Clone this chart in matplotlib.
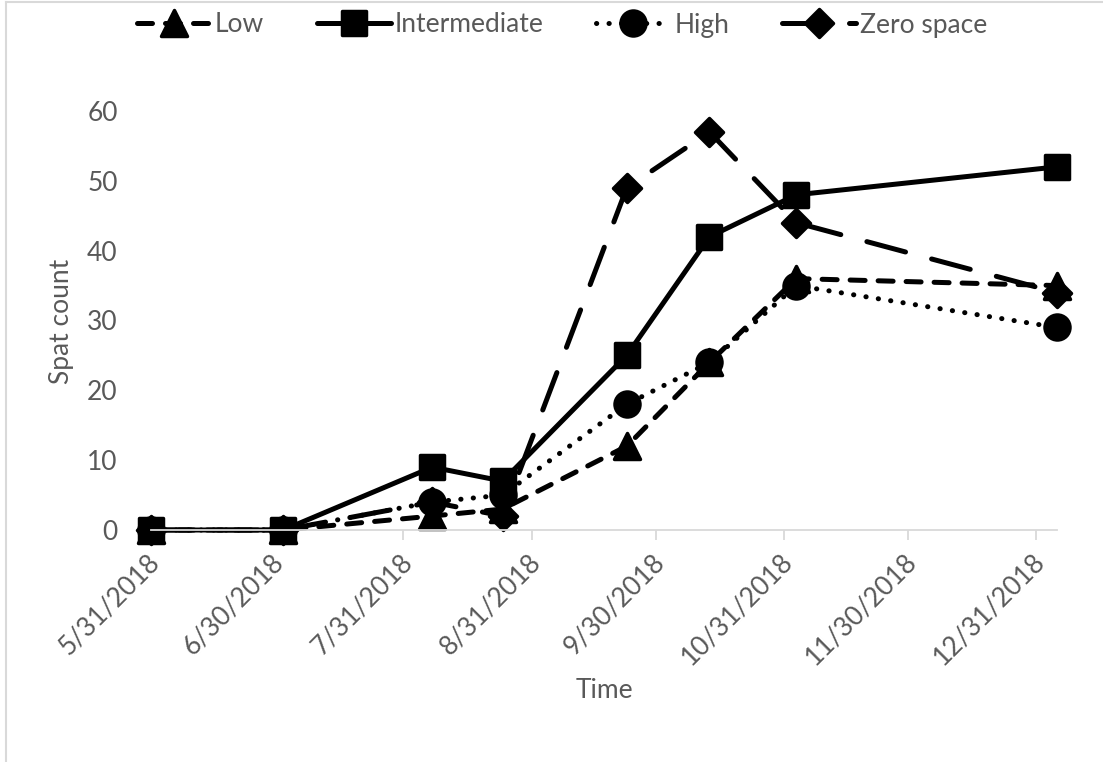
import matplotlib
matplotlib.use('Agg')
import matplotlib.pyplot as plt
import matplotlib.dates as mdates
from matplotlib.markers import MarkerStyle
from matplotlib.lines import Line2D
from matplotlib.transforms import ScaledTranslation
import numpy as np

# sampling dates and spat counts
dates = ['2018-05-31', '2018-07-02', '2018-08-07', '2018-08-24',
         '2018-09-23', '2018-10-13', '2018-11-03', '2019-01-05']
low = [0, 0, 2, 3, 12, 24, 36, 35]
intermediate = [0, 0, 9, 7, 25, 42, 48, 52]
high = [0, 0, 4, 5, 18, 24, 35, 29]
zero_space = [0, 0, 4, 2, 49, 57, 44, 34]

tick_dates = ['2018-05-31', '2018-06-30', '2018-07-31', '2018-08-31',
              '2018-09-30', '2018-10-31', '2018-11-30', '2018-12-31']
tick_labels = ['5/31/2018', '6/30/2018', '7/31/2018', '8/31/2018',
               '9/30/2018', '10/31/2018', '11/30/2018', '12/31/2018']
y_ticks = [0, 10, 20, 30, 40, 50, 60]

GREY = '#595959'
AXIS = '#D9D9D9'
FS = 19
plt.rcParams['font.family'] = ['Lato', 'DejaVu Sans']

W, H = 1103, 762
fig = plt.figure(figsize=(W / 100, H / 100), dpi=100)


def px(x0, y0, x1, y1):
    # pixel box (top-left origin) -> figure fraction rect
    return [x0 / W, 1 - y1 / H, (x1 - x0) / W, (y1 - y0) / H]


ax = fig.add_axes(px(151, 111, 1057, 530))

x = mdates.date2num(np.array(dates, dtype='datetime64[D]'))
LW = 3.6


def mk(m):
    return MarkerStyle(m, joinstyle='round')


series = [
    ('Low', low, (0, (3.0, 2.6)), mk('^'), 19),
    ('Intermediate', intermediate, '-', mk('s'), 17),
    ('High', high, (0, (0.05, 2.45)), mk('o'), 18),
    ('Zero space', zero_space, (0, (8.0, 5.4)), mk('D'), 14),
]

handles = []
for name, vals, ls, marker, ms in series:
    line, = ax.plot(x, vals, color='black', lw=LW, linestyle=ls,
                    dash_capstyle='round', solid_capstyle='round',
                    marker=marker, markersize=ms, markerfacecolor='black',
                    markeredgecolor='black', markeredgewidth=2.5,
                    label=name, clip_on=False)
    handles.append(line)

ax.set_xlim(x[0], x[-1])
ax.set_ylim(0, 60)
ax.set_yticks(y_ticks)
ax.set_xticks(mdates.date2num(np.array(tick_dates, dtype='datetime64[D]')))
ax.set_xticklabels(tick_labels, rotation=45, ha='right', va='center',
                   rotation_mode='anchor')

for s in ['top', 'right', 'left']:
    ax.spines[s].set_visible(False)
ax.spines['bottom'].set_color(AXIS)
ax.spines['bottom'].set_linewidth(1.3)
ax.tick_params(axis='x', colors=GREY, labelsize=FS, length=7, width=1.3,
               color=AXIS, pad=13)
ax.tick_params(axis='y', colors=GREY, labelsize=FS, length=0, pad=24)

# nudge the slanted date labels a little to the right, like Excel does
shift = ScaledTranslation(5 / 100, 0, fig.dpi_scale_trans)
for lbl in ax.get_xticklabels():
    lbl.set_transform(lbl.get_transform() + shift)

# axis titles placed in figure pixels
fig.text(604 / W, 1 - 690 / H, 'Time', fontsize=FS, color=GREY,
         ha='center', va='center')
fig.text(61 / W, 1 - 321 / H, 'Spat count', fontsize=FS, color=GREY,
         ha='center', va='center', rotation=90)

fig.legend(handles=handles, loc='center', bbox_to_anchor=(562 / W, 1 - 25 / H),
           ncol=4, frameon=False, fontsize=FS, labelcolor=GREY,
           handlelength=2.8, handletextpad=0.15, columnspacing=2.0)

# chart border (only top and left edges fall inside the picture)
fig.add_artist(Line2D([6 / W, 6 / W], [0, 1 - 2 / H], transform=fig.transFigure,
                      color=AXIS, lw=1.5))
fig.add_artist(Line2D([6 / W, 1], [1 - 2 / H, 1 - 2 / H], transform=fig.transFigure,
                      color=AXIS, lw=1.5))

fig.savefig('out.png', dpi=100, facecolor='white')
